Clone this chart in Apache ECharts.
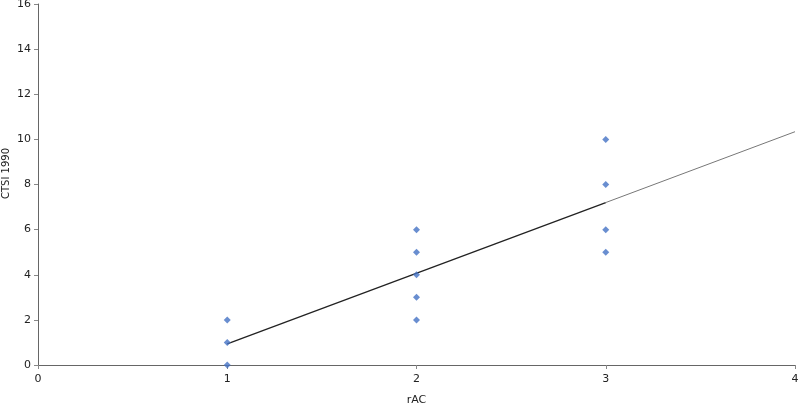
<!DOCTYPE html>
<html>
<head>
<meta charset="utf-8">
<script src="https://cdn.jsdelivr.net/npm/echarts@6/dist/echarts.min.js"></script>
<style>
    html, body { margin: 0; padding: 0; background: #fff; }
    .chart1 { width: 799px; height: 405px; }
</style>
</head>
<body>
<div class="chart1"></div>
<script>
// observed points
var xValues = [1, 1, 1, 2, 2, 2, 2, 2, 3, 3, 3, 3];
var yValues = [0, 1, 2, 2, 3, 4, 5, 6, 5, 6, 8, 10];
// trend line
var trendFit = [[1, 0.94], [3, 7.2]];
var trendForecast = [[3, 7.2], [4, 10.34]];

var myChart1;
function initChart1() {
    var chartDom = document.querySelector('.chart1');
    myChart1 = echarts.init(chartDom);
    var option;

    var points = [];
    for (let i = 0; i < xValues.length; i++) {
        points.push([xValues[i], yValues[i]]);
    }
    var labelStyle = {
        color: '#222',
        fontSize: 11,
        fontFamily: 'DejaVu Sans'
    };

    option = {
        animation: false,
        grid: {
            left: 38,
            right: 4,
            top: 4,
            bottom: 40,
            containLabel: false,
            outerBoundsMode: 'none'
        },
        xAxis: {
            type: 'value',
            min: 0,
            max: 4,
            interval: 1,
            name: 'rAC',
            nameLocation: 'middle',
            nameGap: 30,
            nameMoveOverlap: false,
            nameTextStyle: { color: '#222', fontSize: 11, fontFamily: 'DejaVu Sans' },
            axisLine: { lineStyle: { color: '#666' } },
            axisTick: { show: true, length: 4, lineStyle: { color: '#888' } },
            axisLabel: Object.assign({ margin: 9 }, labelStyle),
            splitLine: { show: false }
        },
        yAxis: {
            type: 'value',
            min: 0,
            max: 16,
            interval: 2,
            name: 'CTSI 1990',
            nameLocation: 'middle',
            nameGap: 27,
            nameMoveOverlap: false,
            nameTextStyle: { color: '#222', fontSize: 10, fontFamily: 'DejaVu Sans', padding: [0, 0, 0, 22] },
            axisLine: { show: true, lineStyle: { color: '#666' } },
            axisTick: { show: true, length: 4, lineStyle: { color: '#888' } },
            axisLabel: Object.assign({ margin: 7 }, labelStyle),
            splitLine: { show: false }
        },
        series: [
            {
                type: 'line',
                data: trendFit,
                symbol: 'none',
                lineStyle: { color: '#222', width: 1.3 },
                z: 3
            },
            {
                type: 'line',
                data: trendForecast,
                symbol: 'none',
                lineStyle: { color: '#777', width: 1 },
                z: 3
            },
            {
                type: 'scatter',
                data: points,
                symbol: 'diamond',
                symbolSize: 7,
                itemStyle: { color: '#4472C4' },
                z: 4
            }
        ]
    };

    option && myChart1.setOption(option);
}

document.addEventListener("DOMContentLoaded", function () {
    initChart1();
});
</script>
</body>
</html>
